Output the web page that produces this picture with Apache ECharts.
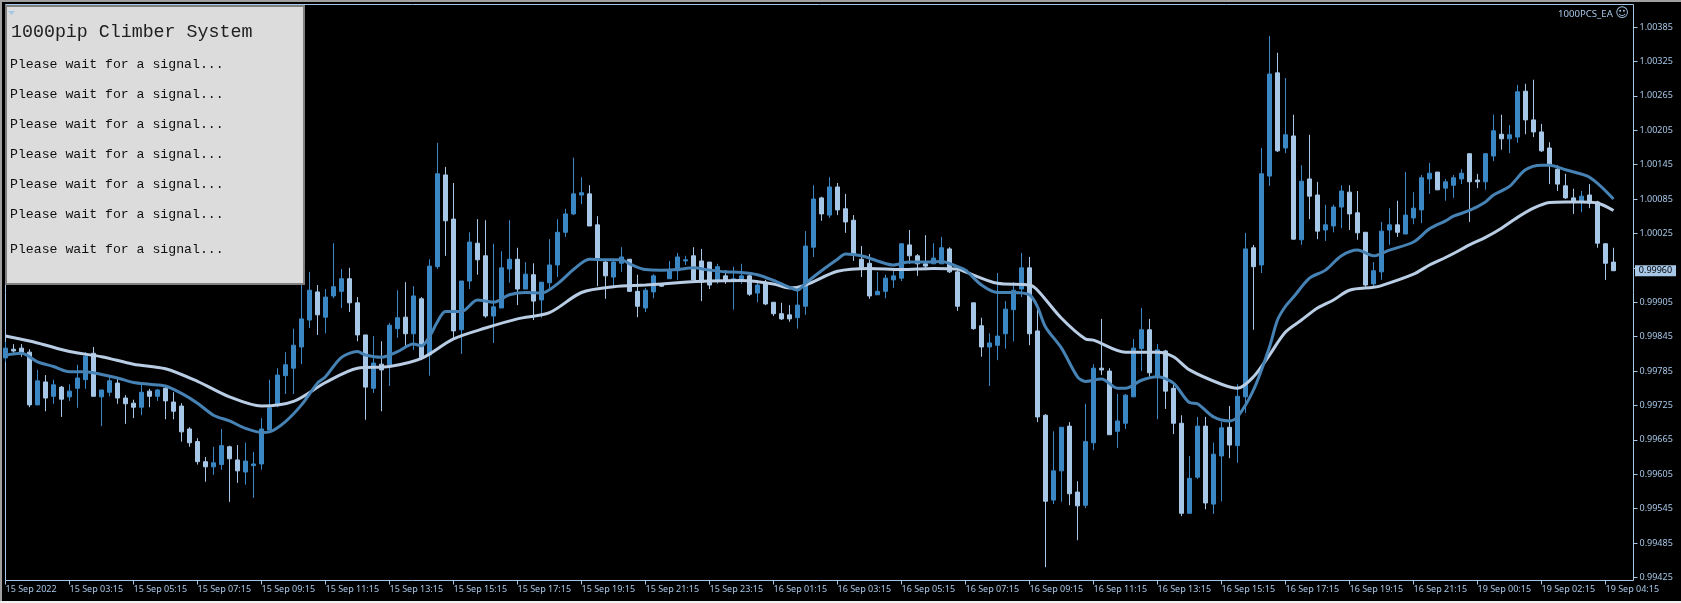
<!DOCTYPE html>
<html>
<head>
<meta charset="UTF-8">
<title>1000pip Climber System</title>
<script src="https://cdn.jsdelivr.net/npm/echarts@6/dist/echarts.min.js"></script>
<style>
html, body { margin: 0; padding: 0; background: #000; }
#chart { width: 1681px; height: 603px; }
</style>
</head>
<body>
<div id="chart"></div>
<script>
// 15 minute bars
var opens = [
0.99808,0.99823,0.99825,0.99818,0.99726,0.99766,0.99741,0.99757,0.99740,0.99755,
0.99770,0.99816,0.99740,0.99748,0.99764,0.99738,0.99729,0.99722,0.99750,0.99741,
0.99755,0.99731,0.99724,0.99684,0.99662,0.99627,0.99618,0.99622,0.99653,0.99630,
0.99609,0.99620,0.99623,0.99682,0.99726,0.99777,0.99790,0.99827,0.99874,0.99923,
0.99879,0.99916,0.99924,0.99946,0.99904,0.99848,0.99755,0.99797,0.99796,0.99859,
0.99879,0.99850,0.99911,0.99813,0.99967,1.00127,1.00050,0.99857,0.99942,1.00008,
0.99986,0.99881,0.99895,0.99963,0.99980,0.99928,0.99953,0.99909,0.99939,0.99970,
1.00027,1.00059,1.00092,1.00094,1.00040,0.99975,0.99949,0.99973,0.99980,0.99924,
0.99895,0.99923,0.99935,0.99946,0.99960,0.99977,0.99986,0.99977,0.99975,0.99944,
0.99951,0.99942,0.99944,0.99951,0.99921,0.99940,0.99905,0.99885,0.99883,0.99878,
0.99898,1.00001,1.00087,1.00057,1.00106,1.00068,1.00048,0.99980,0.99973,0.99918,
0.99924,0.99944,0.99947,1.00005,0.99986,0.99972,0.99972,0.99972,0.99998,0.99958,
0.99961,0.99904,0.99864,0.99827,0.99830,0.99850,0.99892,0.99928,0.99965,0.99855,
0.99708,0.99560,0.99611,0.99689,0.99574,0.99551,0.99660,0.99790,0.99785,0.99680,
0.99694,0.99740,0.99824,0.99857,0.99775,0.99820,0.99755,0.99694,0.99537,0.99600,
0.99689,0.99553,0.99637,0.99687,0.99655,0.99740,1.00000,0.99970,1.00125,1.00305,
1.00174,1.00195,1.00014,1.00120,1.00092,1.00031,1.00038,1.00071,1.00097,1.00061,
1.00027,0.99937,0.99958,1.00031,1.00040,1.00024,1.00052,1.00066,1.00120,1.00132,
1.00104,1.00109,1.00120,1.00164,1.00118,1.00115,1.00160,1.00198,1.00190,1.00193,
1.00273,1.00223,1.00202,1.00174,1.00137,1.00108,1.00087,1.00080,1.00092,1.00080,
1.00007,0.99975];
var closes = [
0.99825,0.99820,0.99818,0.99726,0.99768,0.99738,0.99761,0.99736,0.99750,0.99773,
0.99811,0.99741,0.99752,0.99768,0.99738,0.99728,0.99722,0.99748,0.99741,0.99752,
0.99733,0.99715,0.99679,0.99660,0.99627,0.99618,0.99625,0.99655,0.99632,0.99611,
0.99628,0.99623,0.99684,0.99721,0.99778,0.99796,0.99830,0.99876,0.99926,0.99883,
0.99914,0.99932,0.99946,0.99904,0.99848,0.99757,0.99799,0.99787,0.99865,0.99878,
0.99850,0.99916,0.99808,0.99968,1.00129,1.00047,0.99855,0.99942,1.00010,0.99979,
0.99881,0.99897,0.99965,0.99980,0.99928,0.99954,0.99907,0.99940,0.99970,1.00027,
1.00059,1.00094,1.00096,1.00038,0.99982,0.99951,0.99975,0.99984,0.99924,0.99898,
0.99926,0.99951,0.99933,0.99960,0.99984,0.99979,0.99944,0.99940,0.99935,0.99967,
0.99944,0.99946,0.99951,0.99919,0.99935,0.99902,0.99885,0.99876,0.99876,0.99900,
1.00003,1.00085,1.00059,1.00106,1.00066,1.00045,0.99987,0.99965,0.99916,0.99924,
0.99947,0.99951,1.00007,0.99986,0.99972,0.99968,0.99982,1.00000,0.99958,0.99898,
0.99960,0.99859,0.99827,0.99834,0.99846,0.99893,0.99926,0.99965,0.99850,0.99705,
0.99558,0.99611,0.99687,0.99571,0.99550,0.99662,0.99790,0.99787,0.99674,0.99698,
0.99743,0.99825,0.99857,0.99782,0.99822,0.99750,0.99694,0.99537,0.99598,0.99689,
0.99555,0.99640,0.99686,0.99656,0.99741,0.99998,0.99967,1.00129,1.00303,1.00169,
1.00197,1.00015,1.00116,1.00090,1.00029,1.00040,1.00071,1.00099,1.00059,1.00026,
0.99935,0.99960,1.00029,1.00040,1.00027,1.00057,1.00069,1.00122,1.00130,1.00101,
1.00115,1.00122,1.00130,1.00115,1.00115,1.00164,1.00204,1.00190,1.00197,1.00272,
1.00223,1.00202,1.00169,1.00146,1.00111,1.00087,1.00080,1.00090,1.00078,1.00008,
0.99973,0.99960];
var lows = [
0.99801,0.99817,0.99810,0.99722,0.99726,0.99715,0.99728,0.99705,0.99733,0.99721,
0.99754,0.99741,0.99689,0.99741,0.99728,0.99693,0.99703,0.99708,0.99722,0.99733,
0.99701,0.99701,0.99662,0.99653,0.99622,0.99592,0.99604,0.99613,0.99557,0.99590,
0.99587,0.99564,0.99613,0.99682,0.99722,0.99745,0.99745,0.99797,0.99860,0.99848,
0.99851,0.99912,0.99895,0.99888,0.99837,0.99700,0.99747,0.99715,0.99759,0.99843,
0.99825,0.99822,0.99804,0.99777,0.99963,0.99986,0.99843,0.99815,0.99928,0.99953,
0.99878,0.99834,0.99895,0.99939,0.99900,0.99928,0.99874,0.99878,0.99926,0.99949,
1.00019,1.00057,1.00076,1.00038,0.99933,0.99911,0.99933,0.99958,0.99923,0.99879,
0.99888,0.99912,0.99932,0.99946,0.99944,0.99970,0.99944,0.99907,0.99928,0.99937,
0.99937,0.99892,0.99937,0.99916,0.99905,0.99900,0.99881,0.99874,0.99871,0.99859,
0.99883,0.99984,1.00047,1.00052,1.00057,1.00026,0.99977,0.99949,0.99911,0.99918,
0.99912,0.99930,0.99942,0.99972,0.99951,0.99961,0.99972,0.99972,0.99956,0.99890,
0.99958,0.99857,0.99810,0.99759,0.99804,0.99824,0.99837,0.99914,0.99830,0.99696,
0.99443,0.99553,0.99557,0.99551,0.99490,0.99546,0.99647,0.99778,0.99674,0.99651,
0.99684,0.99740,0.99785,0.99775,0.99701,0.99719,0.99675,0.99532,0.99537,0.99597,
0.99544,0.99536,0.99558,0.99633,0.99625,0.99712,0.99857,0.99956,1.00108,1.00167,
1.00165,1.00014,1.00005,1.00050,1.00015,1.00012,1.00027,1.00034,1.00031,1.00014,
0.99932,0.99930,0.99944,1.00005,1.00019,1.00024,1.00041,1.00043,1.00094,1.00101,
1.00082,1.00087,1.00111,1.00045,1.00104,1.00101,1.00151,1.00171,1.00165,1.00183,
1.00198,1.00193,1.00167,1.00111,1.00099,1.00085,1.00059,1.00062,1.00069,1.00000,
0.99944,0.99960];
var highs = [
0.99836,0.99832,0.99832,0.99823,0.99787,0.99778,0.99770,0.99759,0.99762,0.99796,
0.99818,0.99827,0.99752,0.99775,0.99771,0.99743,0.99735,0.99761,0.99754,0.99754,
0.99759,0.99748,0.99729,0.99687,0.99668,0.99635,0.99653,0.99684,0.99655,0.99656,
0.99660,0.99644,0.99703,0.99770,0.99790,0.99818,0.99859,0.99944,0.99958,0.99935,
0.99928,1.00008,0.99963,0.99965,0.99914,0.99848,0.99846,0.99837,0.99869,0.99926,
0.99940,0.99933,0.99914,0.99980,1.00183,1.00141,1.00113,0.99942,1.00027,1.00050,
1.00048,1.00007,0.99994,1.00048,1.00000,0.99975,0.99973,0.99940,1.00015,1.00050,
1.00068,1.00157,1.00123,1.00109,1.00055,0.99979,0.99979,1.00001,0.99980,0.99953,
0.99930,0.99954,0.99936,0.99977,0.99991,0.99986,1.00001,0.99998,0.99975,0.99972,
0.99961,0.99967,0.99972,0.99953,0.99944,0.99944,0.99905,0.99904,0.99900,0.99926,
1.00029,1.00109,1.00089,1.00123,1.00113,1.00094,1.00057,1.00003,0.99989,0.99958,
0.99953,0.99960,1.00007,1.00031,0.99989,1.00022,1.00008,1.00019,1.00001,0.99968,
0.99963,0.99904,0.99878,0.99851,0.99956,0.99907,0.99940,0.99991,0.99984,0.99892,
0.99710,0.99680,0.99687,0.99696,0.99593,0.99728,0.99797,0.99876,0.99790,0.99745,
0.99745,0.99841,0.99895,0.99876,0.99832,0.99822,0.99761,0.99708,0.99637,0.99705,
0.99705,0.99660,0.99696,0.99724,0.99762,1.00026,1.00005,1.00174,1.00369,1.00340,
1.00296,1.00232,1.00144,1.00197,1.00115,1.00075,1.00075,1.00109,1.00109,1.00099,
1.00027,0.99975,1.00045,1.00069,1.00082,1.00132,1.00097,1.00127,1.00148,1.00132,
1.00120,1.00127,1.00137,1.00164,1.00129,1.00165,1.00232,1.00232,1.00214,1.00284,
1.00286,1.00293,1.00216,1.00184,1.00144,1.00129,1.00103,1.00099,1.00111,1.00082,
1.00008,1.00000];

// moving averages, read at the bars where the line bends
var fastBars = [0,2,4,6,8,10,12,14,16,18,20,22,24,26,28,30,32,33,35,37,39,40,42,44,45,47,49,51,52,53,54,55,57,59,61,63,65,67,69,71,73,75,77,78,80,82,84,86,88,90,92,94,96,98,99,100,102,104,105,107,109,111,113,115,117,119,120,122,124,126,128,129,130,132,134,135,137,139,140,142,144,146,148,149,151,153,154,156,158,159,160,161,163,165,167,169,171,173,176,178,180,181,183,185,186,188,190,192,193,195,198,201];
var fastValues = [0.99813,0.99816,0.99801,0.99793,0.99784,0.99784,0.99779,0.99773,0.99765,0.99762,0.99759,0.99746,0.99729,0.99708,0.99698,0.99685,0.99678,0.99679,0.99697,0.99726,0.99764,0.99775,0.99809,0.99819,0.99813,0.99809,0.99819,0.99832,0.99829,0.99845,0.99871,0.99889,0.99889,0.99909,0.99905,0.99918,0.99922,0.99921,0.99937,0.99962,0.99980,0.99979,0.99979,0.99972,0.99962,0.99961,0.99962,0.99965,0.99961,0.99958,0.99957,0.99953,0.99943,0.99931,0.99926,0.99938,0.99960,0.99980,0.99989,0.99986,0.99977,0.99970,0.99975,0.99975,0.99976,0.99967,0.99961,0.99935,0.99922,0.99922,0.99918,0.99897,0.99862,0.99825,0.99775,0.99767,0.99771,0.99755,0.99755,0.99769,0.99775,0.99764,0.99730,0.99728,0.99705,0.99698,0.99705,0.99752,0.99827,0.99874,0.99898,0.99914,0.99947,0.99961,0.99986,0.99996,0.99986,0.99996,1.00010,1.00033,1.00047,1.00055,1.00065,1.00080,1.00092,1.00107,1.00136,1.00144,1.00144,1.00136,1.00123,1.00085];
var slowBars = [0,4,8,12,16,20,24,28,32,36,40,44,48,52,56,60,64,68,72,76,80,84,88,92,96,98,100,104,108,112,116,119,120,124,128,129,132,135,136,140,144,146,148,152,154,156,158,160,162,164,166,168,171,172,176,178,180,181,183,185,187,189,191,193,195,197,199,201];
var slowValues = [0.99846,0.99834,0.99819,0.99810,0.99797,0.99789,0.99767,0.99740,0.99724,0.99732,0.99765,0.99790,0.99793,0.99807,0.99841,0.99860,0.99876,0.99887,0.99922,0.99932,0.99935,0.99939,0.99942,0.99943,0.99937,0.99930,0.99935,0.99959,0.99964,0.99962,0.99964,0.99963,0.99958,0.99938,0.99935,0.99926,0.99877,0.99841,0.99839,0.99818,0.99818,0.99810,0.99787,0.99762,0.99755,0.99775,0.99813,0.99853,0.99874,0.99895,0.99909,0.99926,0.99931,0.99934,0.99954,0.99970,0.99983,0.99990,1.00005,1.00018,1.00034,1.00053,1.00069,1.00079,1.00080,1.00080,1.00078,1.00065];

// a time label every 8 bars
var timeLabels = ['15 Sep 2022','15 Sep 03:15','15 Sep 05:15','15 Sep 07:15','15 Sep 09:15','15 Sep 11:15','15 Sep 13:15','15 Sep 15:15','15 Sep 17:15','15 Sep 19:15','15 Sep 21:15','15 Sep 23:15','16 Sep 01:15','16 Sep 03:15','16 Sep 05:15','16 Sep 07:15','16 Sep 09:15','16 Sep 11:15','16 Sep 13:15','16 Sep 15:15','16 Sep 17:15','16 Sep 19:15','16 Sep 21:15','19 Sep 00:15','19 Sep 02:15','19 Sep 04:15'];
var priceTicks = [1.00385,1.00325,1.00265,1.00205,1.00145,1.00085,1.00025,0.99965,0.99905,0.99845,0.99785,0.99725,0.99665,0.99605,0.99545,0.99485,0.99425];
var lastPrice = 0.99960;
var signalLines = ['Please wait for a signal...','Please wait for a signal...','Please wait for a signal...','Please wait for a signal...','Please wait for a signal...','Please wait for a signal...','Please wait for a signal...'];

var DARK = '#3a87c3', LIGHT = '#a7c7e7', FAST = '#4682b4', SLOW = '#b9cde4', FRAME = '#a7c7e7';
var AXIS_FONT = '"Noto Sans", Arial, sans-serif';

var candles = [];
for (var i = 0; i < opens.length; i++) {
	candles.push([i, opens[i], closes[i], lows[i], highs[i]]);
}
function pairs(xs, ys) {
	var out = [];
	for (var j = 0; j < xs.length; j++) out.push([xs[j], ys[j]]);
	return out;
}
var timeTicks = timeLabels.map(function (t, k) { return k * 8; });

var signalY = [65, 95, 125, 155, 185, 215, 250];
var panel = [
	{ type: 'rect', z: 50, shape: { x: 0, y: 0, width: 1681, height: 2 }, style: { fill: '#a0a0a0' } },
	{ type: 'rect', z: 50, shape: { x: 0, y: 0, width: 2, height: 603 }, style: { fill: '#a0a0a0' } },
	{ type: 'rect', z: 50, shape: { x: 0, y: 601, width: 1681, height: 2 }, style: { fill: '#f0f0f0' } },
	{ type: 'rect', z: 50, shape: { x: 6, y: 6, width: 298, height: 278 }, style: { fill: '#dcdcdc', stroke: '#808080', lineWidth: 2 } },
	{ type: 'polygon', z: 51, shape: { points: [[8, 11], [15, 11], [11.5, 15]] }, style: { fill: '#a7c7e7' } },
	{ type: 'text', z: 51, x: 11, y: 32, style: { text: '1000pip Climber System', font: '18.3px "Liberation Mono", monospace', fill: '#202020', textVerticalAlign: 'middle' } },
	{ type: 'text', z: 51, x: 1558, y: 14, style: { text: '1000PCS_EA', font: '9.6px ' + AXIS_FONT, fill: LIGHT, textVerticalAlign: 'middle' } },
	{ type: 'text', z: 51, x: 1622, y: 14, style: { text: '\u263A', font: '13px "DejaVu Sans"', fill: LIGHT, textAlign: 'center', textVerticalAlign: 'middle' } }
];
signalLines.forEach(function (s, k) {
	panel.push({ type: 'text', z: 51, x: 10, y: signalY[k], style: { text: s, font: '13.2px "Liberation Mono", monospace', fill: '#101010', textVerticalAlign: 'middle' } });
});

var chart = echarts.init(document.getElementById('chart'), null, { renderer: 'canvas' });
chart.setOption({
	animation: false,
	backgroundColor: '#000',
	grid: { left: 5.5, top: 4.5, width: 1628, height: 576, show: true, borderColor: FRAME, borderWidth: 1, backgroundColor: 'transparent' },
	xAxis: {
		type: 'value', min: 0, max: 203.5, splitLine: { show: false },
		axisLine: { show: false, onZero: false },
		axisTick: { show: true, length: 4, customValues: timeTicks, lineStyle: { color: FRAME } },
		axisLabel: {
			customValues: timeTicks, color: LIGHT, fontFamily: AXIS_FONT, fontSize: 9, align: 'left', margin: 4,
			formatter: function (v) { return timeLabels[Math.round(v / 8)]; }
		}
	},
	yAxis: {
		type: 'value', position: 'right', scale: true, min: 0.994198, max: 1.004242, splitLine: { show: false },
		axisLine: { show: false, onZero: false },
		axisTick: { show: true, length: 4, customValues: priceTicks, lineStyle: { color: FRAME } },
		axisLabel: {
			customValues: priceTicks.filter(function (p) { return p !== 0.99965; }),
			color: LIGHT, fontFamily: AXIS_FONT, fontSize: 9, margin: 6,
			formatter: function (v) { return v.toFixed(5); }
		}
	},
	series: [
		{
			type: 'candlestick', data: candles, barWidth: 5, z: 2,
			itemStyle: { color: DARK, color0: LIGHT, borderColor: DARK, borderColor0: LIGHT, borderColorDoji: LIGHT, borderWidth: 1 }
		},
		{ type: 'line', data: pairs(slowBars, slowValues), showSymbol: false, smooth: 0.3, z: 3, lineStyle: { color: SLOW, width: 3 } },
		{ type: 'line', data: pairs(fastBars, fastValues), showSymbol: false, smooth: 0.3, z: 4, lineStyle: { color: FAST, width: 3 } }
	],
	graphic: panel
});

// last price tag on the axis
var lastY = chart.convertToPixel({ yAxisIndex: 0 }, lastPrice);
chart.setOption({
	graphic: panel.concat([
		{ type: 'rect', z: 51, shape: { x: 1635, y: lastY - 5.5, width: 41, height: 11 }, style: { fill: LIGHT } },
		{ type: 'text', z: 52, x: 1655.5, y: lastY, style: { text: lastPrice.toFixed(5), font: '9px ' + AXIS_FONT, fill: '#000', textAlign: 'center', textVerticalAlign: 'middle' } }
	])
});
</script>
</body>
</html>
